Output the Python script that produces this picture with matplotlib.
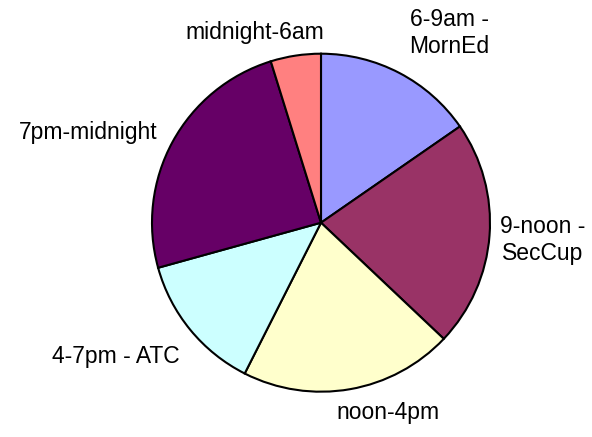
import matplotlib
matplotlib.use("Agg")
import matplotlib.pyplot as plt

labels = ["6-9am -\nMornEd", "9-noon -\nSecCup", "noon-4pm", "4-7pm - ATC",
          "7pm-midnight", "midnight-6am"]
values = [15.36, 21.7, 20.4, 13.25, 24.5, 4.8]
colors = ["#9999FF", "#993366", "#FFFFCC", "#CCFFFF", "#660066", "#FF8080"]

# label centres in figure pixels (from top-left)
label_pos = [(449, 33), (543, 240), (388, 413), (116, 356), (88, 133), (255, 32)]

W, H = 592, 437
cx, cy, R = 321, 222.7, 169

fig = plt.figure(figsize=(W / 100, H / 100), dpi=100)
ax = fig.add_axes([0, 0, 1, 1])
ax.pie(values, colors=colors, startangle=90, counterclock=False,
       radius=1, center=(0, 0),
       wedgeprops=dict(edgecolor="black", linewidth=1.5))
ax.set_xlim(-cx / R, (W - cx) / R)
ax.set_ylim(-(H - cy) / R, cy / R)
ax.set_aspect("auto")
ax.axis("off")

for lab, (px, py) in zip(labels, label_pos):
    fig.text(px / W, 1 - py / H, lab, ha="center", va="center",
             fontsize=16.5, family="Liberation Sans", color="black",
             linespacing=1.2)

fig.savefig("out.png", dpi=100, facecolor="white")
